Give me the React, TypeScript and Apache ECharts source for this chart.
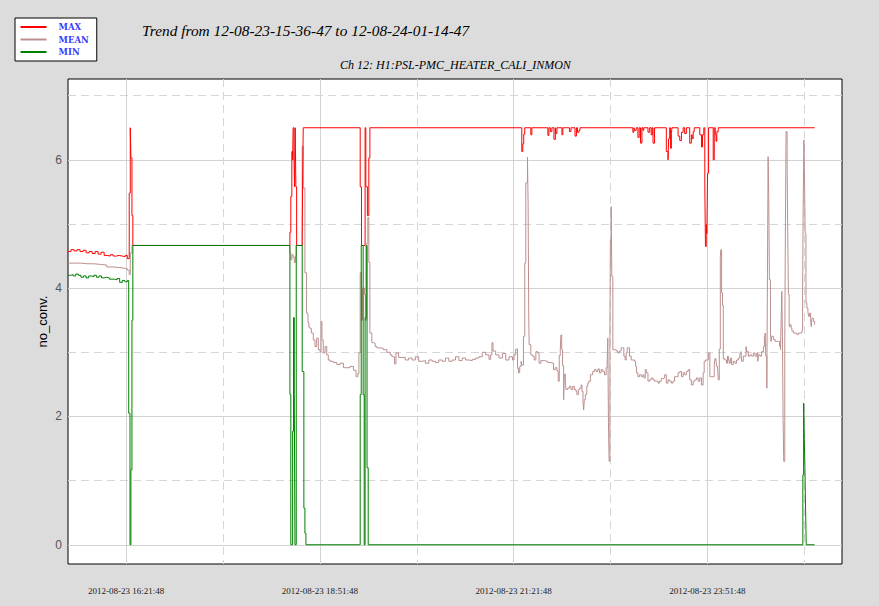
import React, { useEffect, useRef } from "react";
import * as echarts from "echarts";

const START = "2012-08-23 15:36:47";
const TITLE = "Trend from 12-08-23-15-36-47 to 12-08-24-01-14-47";
const SUBTITLE = "Ch 12: H1:PSL-PMC_HEATER_CALI_INMON";
const Y_NAME = "no_conv.";
const SERIES_NAMES = ["MAX", "MEAN", "MIN"];

// Labelled (solid) and intermediate (dashed) time grid lines
const xSolidTicks = ["2012-08-23 16:21:48", "2012-08-23 18:51:48", "2012-08-23 21:21:48", "2012-08-23 23:51:48"];
const xDashedTicks = ["2012-08-23 17:36:48", "2012-08-23 20:06:48", "2012-08-23 22:36:48", "2012-08-24 01:06:48"];
const ySolidTicks = [0, 2, 4, 6];
const yDashedTicks = [1, 3, 5, 7];

// [minutes since START, value]
const maxPts = [
  [0, 4.57], [2.3, 4.6], [4.7, 4.58], [7, 4.6], [9.3, 4.57], [11.7, 4.59], [14, 4.55], [16.3, 4.57], [18.7, 4.54], [21, 4.57],
  [23.3, 4.53], [25.6, 4.56], [28, 4.51], [30.3, 4.5], [32.6, 4.52], [35, 4.5], [37.3, 4.51], [39.6, 4.5], [42, 4.49], [44.3, 4.51],
  [45.9, 4.46], [47.4, 5.48], [48.2, 6.5], [48.7, 6.03], [49.5, 5.13], [50.2, 4.665],
  [171.8, 4.87], [172.5, 5.43], [173.3, 6.13], [173.9, 6.0], [174.3, 6.5], [174.9, 6.08], [175.4, 5.58], [175.9, 6.5], [176.4, 5.58], [177, 4.665],
  [181.3, 4.8], [181.6, 5.58], [182.1, 6.5],
  [226.2, 5.58], [227.2, 4.665], [230, 6.5], [230.6, 5.58], [231.8, 5.13], [232.9, 6.03], [233.7, 6.5],
  [351.3, 6.13], [352.1, 6.25], [352.8, 6.4], [353.6, 6.5], [358.3, 6.39], [359.1, 6.5], [371.5, 6.38], [372.3, 6.5], [373.4, 6.44], [374.6, 6.5],
  [376.2, 6.32], [377.3, 6.5], [377.7, 6.41], [378.5, 6.5], [382.4, 6.39], [383.1, 6.5], [388.2, 6.44], [389.4, 6.5], [392.5, 6.37], [393.6, 6.5],
  [394.4, 6.43], [395.6, 6.46], [396.4, 6.5],
  [437.3, 6.43], [438.1, 6.5], [438.6, 6.46], [439.9, 6.5], [441.2, 6.35], [442.2, 6.5], [443.2, 6.26], [444.3, 6.5], [445.1, 6.46], [445.7, 6.5],
  [449, 6.43], [450.3, 6.5], [451.5, 6.39], [452.3, 6.5], [452.9, 6.26], [454.1, 6.5], [463.2, 6.13], [464.5, 6.0], [465, 6.33], [465.8, 6.5],
  [466.5, 6.18], [467.1, 6.41], [467.6, 6.5],
  [472.3, 6.37], [473.6, 6.3], [474.9, 6.43], [476.2, 6.5], [477.4, 6.41], [478.7, 6.5], [481.3, 6.26], [482.6, 6.39], [483.2, 6.33], [484, 6.44], [484.8, 6.5],
  [489.1, 6.39], [490.4, 6.2], [491.2, 6.39], [492.2, 6.5], [493, 5.58], [493.5, 4.65], [494.1, 4.99], [494.6, 4.85], [495.1, 5.79], [495.9, 6.5],
  [499.5, 6.0], [500.3, 6.5], [501.1, 6.39], [501.7, 6.29], [502.3, 6.44], [503.4, 6.5], [578, 6.5],
];

const meanPts = [
  [0, 4.39], [5, 4.39], [10, 4.38], [15, 4.38], [20, 4.37], [25, 4.36], [30, 4.33], [35, 4.32], [40, 4.31], [44, 4.3], [46, 4.28],
  [47.4, 4.21], [48.2, 4.55], [49.5, 4.665],
  [171.8, 4.55], [172.5, 4.44], [173.3, 4.52], [174.3, 4.48], [175.2, 4.4], [176, 4.5], [176.7, 4.665],
  [181.3, 6.21], [182.1, 5.56], [183.4, 4.24], [184.7, 3.61], [185.8, 3.46], [186.5, 3.39], [187.4, 3.37], [188.4, 3.3], [189.9, 3.19], [191.2, 3.09],
  [192.5, 3.22], [193.8, 3.04], [195.1, 3.01], [195.9, 3.48], [196.6, 3.19], [197.6, 2.99], [199, 3.09], [200.3, 2.96], [201.5, 2.88], [202.8, 2.86],
  [205.4, 2.84], [208.1, 2.81], [210.6, 2.83], [213.2, 2.76], [215.8, 2.76], [218.4, 2.78], [221, 2.72], [223, 2.62], [224.4, 2.67], [225.2, 2.99],
  [226.2, 4.24], [227.2, 3.5], [228, 4.0], [229.5, 3.9], [230.2, 3.5], [231.3, 4.7], [232.1, 5.1], [232.9, 4.4], [233.7, 3.3], [235.2, 3.15],
  [236.5, 3.14], [237.8, 3.09], [239.1, 3.07], [241.7, 3.06], [244.3, 3.04], [246.9, 3.0], [249.5, 2.96], [250.8, 2.93], [252.8, 2.82], [253.9, 2.99],
  [255.9, 2.92], [258.6, 2.92], [261.1, 2.88], [263.7, 2.91], [266.3, 2.88], [268.9, 2.93], [271.5, 2.86], [274.1, 2.87], [276.7, 2.83], [279.3, 2.88],
  [281.9, 2.86], [284.5, 2.84], [287, 2.88], [289.7, 2.86], [292.2, 2.91], [294.8, 2.86], [297.4, 2.88], [300, 2.93], [302.6, 2.87], [305.2, 2.91],
  [307.8, 2.88], [310.3, 2.87], [313, 2.89], [315.5, 2.91], [318.1, 2.93], [320.7, 3.0], [323.3, 2.96], [325.9, 2.89], [327.2, 2.96], [328.2, 3.15],
  [329, 3.02], [331.1, 2.96], [333.7, 2.91], [336.3, 2.98], [338.9, 2.88], [341.4, 2.93], [344.1, 2.88], [345.3, 2.96], [346.6, 3.05], [348, 2.75],
  [348.7, 2.68], [349.7, 2.78], [350.8, 2.86], [351.3, 2.8], [352.6, 3.25], [353.6, 4.39], [354.4, 5.64], [355.7, 6.04], [356.2, 5.31], [356.7, 3.5],
  [357, 3.12], [358.3, 2.96], [359.6, 2.94], [360.9, 2.88], [362.2, 3.01], [363.5, 2.99], [364.7, 2.83], [366.1, 2.87], [368.6, 2.86], [371.3, 2.84],
  [373.8, 2.83], [375.9, 2.73], [377.2, 2.76], [378.5, 2.71], [379.5, 2.55], [380.3, 2.95], [381.1, 3.04], [381.6, 3.27], [382.2, 3.04], [382.9, 2.79],
  [383.7, 2.26], [384.2, 2.66], [385, 2.55], [385.5, 2.42], [386.8, 2.44], [388.1, 2.47], [389.4, 2.42], [390.7, 2.47], [392, 2.42], [393.3, 2.39],
  [394, 2.34], [395.1, 2.42], [396.1, 2.44], [397.2, 2.49], [397.9, 2.39], [398.7, 2.23], [399.2, 2.1], [399.7, 2.26], [400.5, 2.34], [401.6, 2.47],
  [402.4, 2.52], [403.1, 2.55], [404.4, 2.65], [406.2, 2.7], [407.5, 2.73], [408.8, 2.7], [410.1, 2.74], [411.4, 2.68], [412.7, 2.73], [414, 2.7],
  [415.3, 2.65], [416.6, 2.76], [417.4, 2.83], [417.9, 3.22], [418.4, 1.9], [418.9, 1.3], [419.5, 3.3], [419.9, 4.75], [420.5, 5.27], [421, 4.18],
  [421.8, 3.04], [423, 3.04], [424.4, 3.02], [425.7, 2.99], [426.9, 3.02], [428.2, 3.07], [429.5, 3.07], [430.3, 2.94], [431.3, 2.88], [432.1, 2.99],
  [432.9, 3.07], [433.9, 3.07], [434.7, 2.94], [436, 2.88], [437.3, 2.88], [438.6, 2.86], [439.4, 2.78], [440.1, 2.68], [441.2, 2.62], [442.5, 2.65],
  [443.8, 2.62], [445.1, 2.65], [445.9, 2.6], [446.9, 2.73], [447.7, 2.68], [449, 2.55], [450.2, 2.57], [451.5, 2.6], [452.9, 2.57], [454.1, 2.55],
  [455.4, 2.55], [456.8, 2.52], [458, 2.55], [459.3, 2.59], [460.6, 2.6], [461.9, 2.65], [463.2, 2.52], [464.5, 2.57], [465.8, 2.55], [467.1, 2.52],
  [468.4, 2.55], [469.6, 2.62], [471, 2.62], [472.3, 2.68], [473.6, 2.7], [474.9, 2.62], [476.2, 2.68], [477.4, 2.65], [478.7, 2.7], [480.1, 2.73],
  [481.3, 2.57], [482.6, 2.49], [484, 2.55], [485.2, 2.57], [486.5, 2.6], [487.8, 2.55], [489.1, 2.6], [490.4, 2.49], [491.7, 2.68], [492.5, 2.86],
  [493.5, 2.88], [494.6, 2.88], [495.7, 2.99], [496.9, 2.62], [498.2, 2.62], [499.5, 2.62], [500.3, 2.8], [500.8, 2.9], [501.6, 2.88], [502.1, 2.78],
  [502.9, 2.75], [503.4, 2.57], [504.2, 3.05], [505, 4.49], [505.4, 4.6], [506, 3.93], [506.7, 3.73], [507.3, 2.9], [508.5, 2.88], [509.8, 2.83],
  [510.6, 2.94], [511.2, 2.88], [511.9, 2.83], [512.7, 2.91], [513.7, 2.81], [515, 2.86], [516.3, 2.83], [517.6, 2.88], [518.9, 2.91], [520.2, 2.99],
  [521, 3.01], [521.5, 2.86], [522.8, 2.94], [524.1, 2.94], [524.9, 3.09], [525.4, 3.01], [526.7, 2.94], [528, 2.96], [529.3, 2.94], [530.6, 2.99],
  [531.9, 2.94], [533.2, 2.99], [534, 2.86], [534.5, 2.96], [535.7, 2.94], [537, 3.01], [538.4, 3.09], [539.1, 3.25], [539.7, 3.3], [540.2, 2.94],
  [541, 2.44], [541.5, 4.23], [542, 6.05], [542.5, 5.4], [543, 4.13], [543.8, 3.3], [544.3, 3.17], [544.8, 3.25], [546.1, 3.2], [547.4, 3.17],
  [548.7, 3.17], [550, 3.17], [550.8, 3.09], [551.6, 3.04], [552.1, 3.51], [552.6, 3.95], [553.1, 3.25], [553.6, 1.95], [554.1, 1.3], [554.9, 3.14],
  [555.4, 5.01], [555.9, 6.44], [556.7, 5.92], [557.2, 4.88], [557.7, 3.9], [558.3, 3.4], [559, 3.43], [559.8, 3.38], [560.4, 3.33], [561.7, 3.3],
  [563, 3.3], [564.2, 3.28], [565.6, 3.3], [566.8, 3.3], [568.1, 3.33], [568.7, 3.92], [569.2, 5.4], [569.7, 6.31], [570.2, 5.64], [570.7, 4.85],
  [571.3, 3.77], [572, 3.69], [572.8, 3.64], [573.3, 3.56], [574.1, 3.61], [574.9, 3.51], [575.4, 3.4], [575.9, 3.53], [577.2, 3.48], [578, 3.43],
];

const minPts = [
  [0, 4.2], [2, 4.21], [4, 4.19], [6, 4.22], [8, 4.2], [10, 4.17], [12, 4.19], [14, 4.16], [16, 4.19], [18, 4.18], [20, 4.2], [22, 4.17],
  [24, 4.19], [26, 4.16], [28, 4.17], [30, 4.16], [32, 4.14], [34, 4.14], [36, 4.13], [38, 4.15], [40, 4.09], [42, 4.12], [44, 4.1], [46, 4.12],
  [47, 2.05], [48, 0], [48.7, 1.17], [49.5, 3.5], [50.2, 4.665],
  [171.8, 2.34], [172.5, 0], [173.9, 1.77], [174.6, 3.54], [175.2, 2.34], [175.7, 0], [176.7, 4.665],
  [181.3, 2.7], [182.6, 0.57], [183.4, 0.18], [184.2, 0],
  [226.2, 2.34], [227, 4.665], [228.5, 2.34], [229.3, 0], [230, 3.54], [230.8, 4.665], [231.5, 1.2], [232.4, 0],
  [568.9, 1.09], [569.5, 2.21], [570, 1.64], [570.5, 1.19], [571, 0.55], [571.5, 0], [578, 0],
];

function toMin(s: string): number {
  const parse = (str: string) => {
    const [d, t] = str.split(" ");
    const [Y, M, D] = d.split("-").map(Number);
    const [h, mi, se] = t.split(":").map(Number);
    return Date.UTC(Y, M - 1, D, h, mi, se);
  };
  return (parse(s) - parse(START)) / 60000;
}

const COLORS = { MAX: "#ff0000", MEAN: "#bc8f8f", MIN: "#008000" };

export default function App() {
  const ref = useRef<HTMLDivElement>(null);
  useEffect(() => {
    if (!ref.current) return;
    const chart = echarts.init(ref.current, null, { renderer: "svg" });
    const solidX = xSolidTicks.map(toMin);
    const dashedX = xDashedTicks.map(toMin);
    const xFmt = (v: number) => {
      const i = solidX.findIndex((s) => Math.abs(s - v) < 0.05);
      return i >= 0 ? xSolidTicks[i] : "";
    };
    const dataMap: Record<string, number[][]> = { MAX: maxPts, MEAN: meanPts, MIN: minPts };
    const drawOrder = ["MEAN", "MAX", "MIN"];
    chart.setOption({
      animation: false,
      backgroundColor: "#dcdcdc",
      title: [
        {
          text: TITLE, left: 142, top: 23, padding: 0,
          textStyle: { fontFamily: "Liberation Serif", fontStyle: "italic", fontWeight: "normal", fontSize: 15.4, color: "#000" },
        },
        {
          text: SUBTITLE, left: 340, top: 59, padding: 0,
          textStyle: { fontFamily: "Liberation Serif", fontStyle: "italic", fontWeight: "normal", fontSize: 12, color: "#000" },
        },
      ],
      legend: {
        data: SERIES_NAMES,
        orient: "vertical",
        left: 15, top: 18,
        padding: [4.5, 8, 4.5, 5.5],
        itemGap: 3.5,
        itemWidth: 26, itemHeight: 2,
        icon: "rect",
        backgroundColor: "#fff",
        borderColor: "#000",
        borderWidth: 1,
        borderRadius: 0,
        selectedMode: false,
        textStyle: { color: "#3a3aff", fontFamily: "DejaVu Serif", fontWeight: "bold", fontSize: 8.5, lineHeight: 9, padding: [0, 0, 0, 7] },
      },
      grid: { left: 68, top: 79, width: 774, height: 485, show: true, backgroundColor: "#fff", borderColor: "#000", borderWidth: 1 },
      xAxis: [
        {
          type: "value", min: 0, max: 599.2, position: "bottom",
          axisLine: { show: false },
          axisTick: { show: false, customValues: solidX },
          axisLabel: { customValues: solidX, formatter: xFmt, margin: 22, fontFamily: "Liberation Serif", fontSize: 9, color: "#222" },
          splitLine: { show: true, lineStyle: { color: "#d3d3d3", width: 1, type: "solid" } },
        },
        {
          type: "value", min: 0, max: 599.2, position: "top",
          axisLine: { show: false },
          axisTick: { show: false, customValues: dashedX },
          axisLabel: { show: false },
          splitLine: { show: true, lineStyle: { color: "#d6d6d6", width: 1, type: [8, 5] } },
        },
      ],
      yAxis: [
        {
          type: "value", min: -0.3, max: 7.26, position: "left",
          name: Y_NAME, nameLocation: "middle", nameGap: 19, nameMoveOverlap: false,
          nameTextStyle: { fontFamily: "Liberation Sans", fontSize: 13, color: "#000" },
          axisLine: { show: false },
          axisTick: { show: false, customValues: ySolidTicks },
          axisLabel: { customValues: ySolidTicks, margin: 6, fontFamily: "Liberation Sans", fontSize: 12, color: "#555" },
          splitLine: { show: true, lineStyle: { color: "#d3d3d3", width: 1, type: "solid" } },
        },
        {
          type: "value", min: -0.3, max: 7.26, position: "right",
          axisLine: { show: false },
          axisTick: { show: false, customValues: yDashedTicks },
          axisLabel: { show: false },
          splitLine: { show: true, lineStyle: { color: "#d6d6d6", width: 1, type: [8, 5] } },
        },
      ],
      series: drawOrder.map((name) => ({
        name,
        type: "line",
        step: "end",
        xAxisIndex: 0,
        yAxisIndex: 0,
        data: dataMap[name],
        showSymbol: false,
        symbol: "none",
        color: COLORS[name as keyof typeof COLORS],
        lineStyle: { width: 1, color: COLORS[name as keyof typeof COLORS] },
      })),
    });
    return () => chart.dispose();
  }, []);
  return <div ref={ref} style={{ position: "fixed", left: 0, top: 0, width: 879, height: 606, background: "#dcdcdc" }} />;
}
